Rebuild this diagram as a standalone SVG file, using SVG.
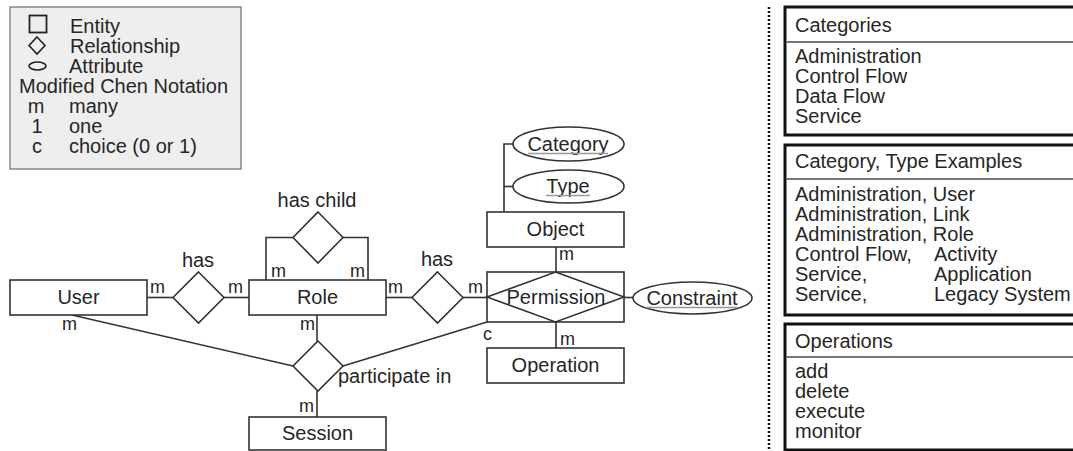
<svg xmlns="http://www.w3.org/2000/svg" width="1073" height="451" viewBox="0 0 1073 451">
<style>
text{font-family:"Liberation Sans",Arial,sans-serif;font-size:20px;fill:#262626}
.c{text-anchor:middle}
.m{font-size:18px}
.ul{stroke:#999;stroke-width:1.3}
.shape{fill:#fff;stroke:#333;stroke-width:1.6}
.conn line,.conn polyline{stroke:#333;stroke-width:1.6;fill:none}
.panel{fill:#fff;stroke:#111;stroke-width:3}
.div{stroke:#777;stroke-width:2}
</style>
<rect width="1073" height="451" fill="#fff"/>

<g id="legend">
<rect x="10" y="7" width="231" height="162" fill="#eeeeee" stroke="#888" stroke-width="1.5"/>
<rect x="29.5" y="15.5" width="17" height="17" fill="none" stroke="#222" stroke-width="1.8"/>
<polygon points="37,37 45,45.5 37,54 29,45.5" fill="none" stroke="#222" stroke-width="1.6"/>
<ellipse cx="37.5" cy="66" rx="8.5" ry="4" fill="none" stroke="#222" stroke-width="1.6"/>
<text x="70" y="33">Entity</text>
<text x="70" y="53">Relationship</text>
<text x="69" y="73">Attribute</text>
<text x="19" y="93">Modified Chen Notation</text>
<text x="36" y="113" class="c">m</text><text x="69" y="113">many</text>
<text x="37" y="133" class="c">1</text><text x="69" y="133">one</text>
<text x="37" y="153" class="c">c</text><text x="69" y="153">choice (0 or 1)</text>
</g>

<g class="conn" id="connectors">
<line x1="147" y1="297.5" x2="173" y2="297.5"/>
<line x1="224" y1="297.5" x2="249" y2="297.5"/>
<line x1="386" y1="297.5" x2="412" y2="297.5"/>
<line x1="463" y1="297.5" x2="487" y2="297.5"/>
<polyline points="266,280 266,237.5 293,237.5"/>
<polyline points="343,237.5 368,237.5 368,280"/>
<line x1="317" y1="315" x2="317" y2="341"/>
<line x1="317" y1="391" x2="317" y2="417"/>
<line x1="72" y1="315" x2="293" y2="366"/>
<line x1="343" y1="366" x2="487" y2="322"/>
<line x1="556" y1="247" x2="556" y2="272"/>
<line x1="556" y1="322" x2="556" y2="348"/>
<line x1="624" y1="297.5" x2="633" y2="297.5"/>
<polyline points="504,212 504,144 513,144"/>
<line x1="504" y1="186.5" x2="513" y2="186.5"/>
<text class="m" x="150" y="293">m</text>
<text class="m" x="228" y="293">m</text>
<text class="m" x="62" y="330">m</text>
<text class="m" x="271" y="277">m</text>
<text class="m" x="350" y="277">m</text>
<text class="m" x="388" y="293">m</text>
<text class="m" x="468" y="293">m</text>
<text class="m" x="300" y="330">m</text>
<text class="m" x="299" y="412">m</text>
<text class="m" x="559" y="260">m</text>
<text class="m" x="483" y="340">c</text>
<text class="m" x="560" y="345">m</text>
</g>

<g id="user"><rect class="shape" x="10" y="280" width="137" height="35"/><text class="c" x="78.5" y="304">User</text></g>
<g id="has1"><polygon class="shape" points="198.5,272 224,297.5 198.5,323 173,297.5"/><text class="c" x="198" y="267">has</text></g>
<g id="role"><rect class="shape" x="249" y="280" width="137" height="35"/><text class="c" x="317.5" y="304">Role</text></g>
<g id="haschild"><polygon class="shape" points="318,212 343,237.5 318,263 293,237.5"/><text class="c" x="317" y="207">has child</text></g>
<g id="has2"><polygon class="shape" points="437.5,272 463,297.5 437.5,323 412,297.5"/><text class="c" x="437" y="266">has</text></g>
<g id="participate"><polygon class="shape" points="318,341 343,366 318,391 293,366"/><text x="338" y="383">participate in</text></g>
<g id="session"><rect class="shape" x="249" y="417" width="137" height="33"/><text class="c" x="317.5" y="440">Session</text></g>
<g id="object"><rect class="shape" x="487" y="212" width="137" height="35"/><text class="c" x="555.5" y="236">Object</text></g>
<g id="permission"><rect class="shape" x="487" y="272" width="137" height="50"/><polygon class="shape" points="555.5,272 624,297 555.5,322 487,297"/><text class="c" x="556" y="304">Permission</text></g>
<g id="operation"><rect class="shape" x="487" y="348" width="137" height="35"/><text class="c" x="555.5" y="372">Operation</text></g>
<g id="category"><ellipse class="shape" cx="568.5" cy="144" rx="55.5" ry="17"/><text class="c" x="568" y="151">Category</text><line class="ul" x1="528" y1="153.5" x2="608" y2="153.5"/></g>
<g id="type"><ellipse class="shape" cx="568.5" cy="186.5" rx="55.5" ry="16.5"/><text class="c" x="568" y="193">Type</text><line class="ul" x1="546" y1="195.5" x2="590" y2="195.5"/></g>
<g id="constraint"><ellipse class="shape" cx="692.5" cy="298" rx="59.5" ry="16"/><text class="c" x="692" y="305">Constraint</text><line class="ul" x1="647" y1="307.5" x2="737" y2="307.5"/></g>

<line id="separator" x1="769" y1="7" x2="769" y2="451" stroke="#111" stroke-width="2.5" stroke-dasharray="2,2"/>

<g id="categories">
<rect class="panel" x="785" y="7" width="300" height="128"/>
<line class="div" x1="786.5" y1="42" x2="1073" y2="42"/>
<text x="795" y="32">Categories</text>
<text x="795" y="63">Administration</text>
<text x="795" y="83">Control Flow</text>
<text x="795" y="103">Data Flow</text>
<text x="795" y="123">Service</text>
</g>
<g id="examples">
<rect class="panel" x="785" y="145" width="300" height="170"/>
<line class="div" x1="786.5" y1="179" x2="1073" y2="179"/>
<text x="795" y="168">Category, Type Examples</text>
<text x="795" y="201">Administration, User</text>
<text x="795" y="221">Administration, Link</text>
<text x="795" y="241">Administration, Role</text>
<text x="795" y="261">Control Flow,<tspan x="934">Activity</tspan></text>
<text x="795" y="281">Service,<tspan x="934">Application</tspan></text>
<text x="795" y="301">Service,<tspan x="934">Legacy System</tspan></text>
</g>
<g id="operations">
<rect class="panel" x="785" y="324" width="300" height="126"/>
<line class="div" x1="786.5" y1="357" x2="1073" y2="357"/>
<text x="795" y="348">Operations</text>
<text x="795" y="378">add</text>
<text x="795" y="398">delete</text>
<text x="795" y="418">execute</text>
<text x="795" y="438">monitor</text>
</g>
</svg>
